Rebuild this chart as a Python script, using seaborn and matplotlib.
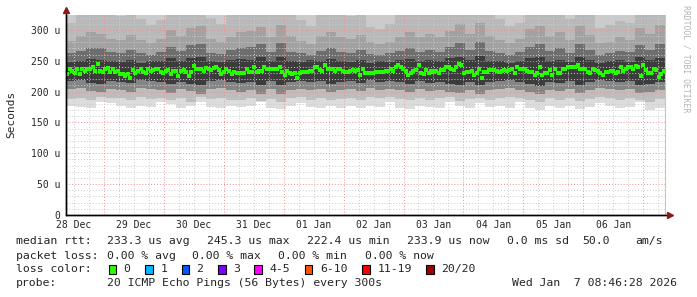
import numpy as np
import pandas as pd
import matplotlib
matplotlib.use("Agg")
import matplotlib.pyplot as plt
import matplotlib.dates as mdates
from matplotlib.patches import Rectangle
from matplotlib.lines import Line2D
import seaborn as sns

# ---------------- data ----------------
start = pd.Timestamp("2025-12-28 08:46:28")
end = pd.Timestamp("2026-01-07 08:46:28")

median_us = [
    228.6, 236, 233.5, 231, 237, 228, 237, 233, 237, 236,
    239.5, 233, 245.3, 233, 232, 236, 238, 232, 236, 232,
    233, 228, 228, 225.5, 228, 222.4, 235, 231, 233, 237,
    232, 231, 237, 233, 235, 236, 237, 232, 231, 233,
    235, 228, 233, 233, 225.5, 233, 235, 232, 225.5, 232,
    241.5, 237, 237, 237, 234, 239, 236, 235, 239,
    239.5, 235, 228.6, 232, 237, 233.5, 228.6, 232, 230, 230,
    230, 230, 236, 232, 232, 240.5, 232, 233.5, 233.5, 239.5,
    236, 236, 236, 237, 237, 240.5, 232, 226.5, 233.5, 231,
    228.6, 230, 222.7, 230, 232, 232, 232, 233.5, 233.5, 239.5,
    239.5, 235, 233.5, 244, 237, 236, 236, 233.5, 236, 237,
    233.5, 232, 232, 233.5, 235, 233.5, 235, 226.5, 237, 230,
    231, 230, 230, 232, 232, 232, 232, 233.5, 233.5, 237,
    233.5, 240.5, 244, 239.5, 237, 233.5, 226.5, 230, 233.5, 235,
    244, 230, 228.6, 235, 230, 233.5, 232, 233.5, 230, 235,
    235, 239.5, 239.5, 237, 235, 240.5, 245, 244, 230, 232,
    232, 233.5, 226.5, 231, 237, 222.7, 232, 232, 235, 235,
    235, 233.5, 232, 233.5, 235, 233.5, 235, 236, 231, 239.5,
    237,
    237, 237, 233.5, 232, 232, 226.5, 230, 239.5, 226.5, 230,
    231, 235, 226.5, 236, 230, 230, 236, 236, 240.5, 240.5,
    239.5, 240.5, 244, 237, 236, 236, 232, 231, 237, 235,
    233.5, 230, 226.5, 232, 232, 233.5, 233.5, 230, 232, 239.5,
    233.5, 237, 239.5, 240.5, 237, 241.5, 239.5, 225.5, 242.5, 235,
    231, 230, 237, 235, 224.5, 228.6, 233.9,
]

# smoke boundaries (sorted ping levels, us) in 60 time slots
smoke_p1 = [176, 175, 174, 184, 182, 176, 174, 177, 175, 183, 180, 174, 176, 184, 175, 173, 177, 175, 176, 183,
            174, 172, 176, 182, 175, 174, 177, 173, 176, 174, 177, 175, 183, 174, 172, 176, 175, 173, 183, 176,
            174, 182, 175, 177, 174, 184, 173, 171, 176, 174, 177, 172, 175, 182, 176, 174, 175, 184, 170, 173]
smoke_p3 = [188, 190, 187, 192, 190, 189, 186, 191, 188, 190, 187, 189, 184, 191, 188, 190, 187, 186, 189, 185,
            188, 184, 190, 191, 187, 189, 186, 188, 190, 187, 191, 189, 192, 188, 187, 190, 186, 189, 191, 185,
            188, 190, 187, 189, 191, 190, 186, 184, 189, 187, 190, 185, 188, 191, 189, 187, 190, 186, 184, 188]
smoke_p6 = [204, 206, 201, 199, 205, 203, 200, 206, 204, 203, 198, 204, 201, 197, 205, 206, 203, 200, 202, 197,
            204, 196, 203, 205, 202, 204, 200, 203, 205, 201, 206, 203, 205, 202, 200, 204, 201, 203, 200, 198,
            202, 197, 203, 204, 206, 203, 199, 196, 203, 201, 205, 198, 203, 206, 204, 202, 205, 198, 200, 202]
smoke_p9 = [217, 219, 214, 212, 218, 216, 214, 219, 217, 216, 212, 216, 213, 210, 218, 219, 216, 214, 215, 211,
            217, 210, 216, 218, 215, 217, 213, 216, 218, 214, 219, 216, 218, 215, 213, 217, 214, 216, 212, 211,
            215, 210, 216, 217, 219, 216, 212, 209, 216, 214, 218, 211, 216, 219, 217, 215, 218, 210, 212, 215]
smoke_p12 = [248, 250, 253, 252, 249, 248, 251, 247, 249, 250, 254, 249, 255, 256, 250, 248, 251, 253, 252, 256,
             250, 257, 249, 248, 251, 250, 253, 249, 248, 252, 247, 249, 248, 251, 253, 250, 252, 249, 254, 257,
             251, 258, 250, 249, 247, 250, 254, 257, 250, 252, 248, 256, 251, 247, 249, 252, 248, 257, 251, 255]
smoke_p15 = [262, 266, 271, 270, 264, 263, 268, 262, 260, 264, 273, 266, 276, 278, 263, 261, 267, 270, 272, 277,
             264, 279, 265, 262, 260, 266, 270, 264, 263, 268, 261, 259, 262, 266, 271, 265, 268, 264, 272, 279,
             268, 281, 266, 262, 260, 264, 273, 278, 266, 270, 263, 278, 268, 260, 262, 266, 264, 276, 268, 277]
smoke_p17 = [282, 290, 296, 294, 286, 284, 292, 283, 279, 285, 300, 290, 304, 306, 286, 280, 289, 296, 298, 305,
             288, 308, 290, 282, 278, 291, 296, 288, 285, 292, 280, 277, 281, 289, 297, 289, 294, 288, 299, 309,
             293, 312, 290, 283, 279, 285, 301, 307, 291, 296, 284, 306, 292, 279, 281, 288, 284, 304, 293, 308]
smoke_p19 = [312, 330, 335, 332, 326, 322, 333, 318, 308, 316, 340, 328, 345, 345, 320, 310, 326, 334, 336, 342,
             325, 350, 328, 316, 306, 330, 335, 326, 322, 332, 305, 302, 310, 326, 336, 327, 334, 325, 338, 350,
             330, 352, 328, 318, 306, 312, 340, 346, 330, 336, 318, 345, 330, 304, 308, 315, 312, 342, 332, 348]

day_labels = ["28 Dec", "29 Dec", "30 Dec", "31 Dec", "01 Jan", "02 Jan", "03 Jan", "04 Jan", "05 Jan", "06 Jan"]
y_tick_values = [0, 50, 100, 150, 200, 250, 300]
y_tick_labels = ["0", "50 u", "100 u", "150 u", "200 u", "250 u", "300 u"]

rtt_stats = ["233.3 us avg", "245.3 us max", "222.4 us min", "233.9 us now", "0.0 ms sd", "50.0", "am/s"]
loss_stats = ["0.00 % avg", "0.00 % max", "0.00 % min", "0.00 % now"]
loss_labels = ["0", "1", "2", "3", "4-5", "6-10", "11-19", "20/20"]
loss_colors = ["#26ff00", "#00b8ff", "#0059ff", "#7e00ff", "#ff00ff", "#ff5500", "#ff0000", "#a00000"]
probe_text = "20 ICMP Echo Pings (56 Bytes) every 300s"
stamp_text = "Wed Jan  7 08:46:28 2026"

# ---------------- figure ----------------
sns.set_style("white")
plt.rcParams["font.family"] = ["DejaVu Sans Mono"]

W, H = 697, 297
fig = plt.figure(figsize=(W / 100, H / 100), dpi=100)
fig.patch.set_facecolor("white")
L, R, T, B = 66, 665, 15, 215
ax = fig.add_axes([L / W, 1 - B / H, (R - L) / W, (B - T) / H])
ax.set_facecolor("white")

YTOP = 324.3
x0 = mdates.date2num(start.to_pydatetime())
x1 = mdates.date2num(end.to_pydatetime())

# smoke
edges = mdates.date2num(pd.date_range(start, end, periods=len(smoke_p1) + 1).to_pydatetime())
def ext(a):
    a = np.asarray(a, dtype=float)
    return np.append(a, a[-1])

levels = [smoke_p1, smoke_p3, smoke_p6, smoke_p9, smoke_p12, smoke_p15, smoke_p17, smoke_p19]
band_colors = ["#dcdcdc", "#bdbdbd", "#858585", "#3c3c3c", "#6e6e6e", "#a2a2a2", "#b9b9b9"]
for lo, hi, c in zip(levels[:-1], levels[1:], band_colors):
    ax.fill_between(edges, ext(lo), ext(hi), step="post", color=c, linewidth=0, zorder=1)
ax.fill_between(edges, ext(smoke_p19), np.full(len(edges), 400.0), step="post",
                color="#cbcbcb", linewidth=0, zorder=1)

# grid
for t in pd.date_range(start.ceil("6h"), end, freq="6h"):
    xv = mdates.date2num(t.to_pydatetime())
    if t.hour == 0:
        ax.axvline(xv, color="#f09090", lw=0.7, ls=(0, (1, 2)), zorder=2)
    else:
        ax.axvline(xv, color="#cccccc", lw=0.7, ls=(0, (1, 2)), zorder=2)
for v in range(10, 330, 10):
    if v % 50 == 0:
        ax.axhline(v, color="#f09090", lw=0.7, ls=(0, (1, 2)), zorder=2)
    else:
        ax.axhline(v, color="#cccccc", lw=0.7, ls=(0, (1, 2)), zorder=2)

# median
n = len(median_us)
slot = (end - start) / n
med_times = [start + slot * (i + 0.5) for i in range(n)]
df = pd.DataFrame({"t": mdates.date2num([t.to_pydatetime() for t in med_times]), "rtt": median_us})
sns.scatterplot(data=df, x="t", y="rtt", marker="s", s=6.5, color=loss_colors[0],
                linewidth=0, ax=ax, zorder=4, legend=False)

ax.set_xlim(x0, x1)
ax.set_ylim(0, YTOP)
ax.set_xlabel("")
ax.set_ylabel("")

noons = pd.date_range("2025-12-28 12:00", periods=len(day_labels), freq="D")
ax.set_xticks(mdates.date2num(noons.to_pydatetime()))
ax.set_xticklabels(day_labels, fontsize=7.05)
ax.set_yticks(y_tick_values)
ax.set_yticklabels(y_tick_labels, fontsize=7.05)
ax.tick_params(axis="x", length=0, pad=3.5)
ax.tick_params(axis="y", length=0, pad=4.3)
minor_x = mdates.date2num(pd.date_range(start.ceil("6h"), end, freq="6h").to_pydatetime())
ax.set_xticks(minor_x, minor=True)
ax.set_yticks(list(range(10, 330, 10)), minor=True)
ax.tick_params(which="minor", length=2, width=0.6, color="#999999", direction="inout")

ax.spines["top"].set_visible(False)
ax.spines["right"].set_color("#c8c8b8")
ax.spines["right"].set_linewidth(0.8)
ax.spines["left"].set_color("black")
ax.spines["bottom"].set_color("black")
ax.spines["left"].set_linewidth(1.0)
ax.spines["bottom"].set_linewidth(1.0)

# axis extensions with arrows
fig.add_artist(Line2D([L / W, 668 / W], [1 - B / H, 1 - B / H], color="black", lw=1.0))
fig.add_artist(Line2D([L / W, L / W], [1 - B / H, 1 - 12 / H], color="black", lw=1.0))
fig.add_artist(Line2D([670 / W], [1 - B / H], marker=">", color="#8a1a1a", markersize=4, lw=0))
fig.add_artist(Line2D([L / W], [1 - 10 / H], marker="^", color="#8a1a1a", markersize=4, lw=0))

# labels
fig.text(11 / W, 1 - 114 / H, "Seconds", rotation=90, ha="center", va="center", fontsize=8.0)
fig.text(686 / W, 1 - 59 / H, "RRDTOOL / TOBI OETIKER", rotation=270, ha="center", va="center",
         fontsize=5.9, color="#b4b4b4")

FS = 8.25
CW = 6.95
def ftxt(xp, yp, s, **kw):
    fig.text(xp / W, 1 - yp / H, s, fontsize=FS, va="center", **kw)

row1, row2, row3, row4 = 241, 255.7, 269.3, 283.3
ftxt(16, row1, "median rtt:")
for xp, s in zip([107, 207, 307, 407.3, 507.3, 582.7, 635], rtt_stats):
    ftxt(xp, row1, s)
ftxt(16, row2, "packet loss:")
for xp, s in zip([107, 192, 278, 365], loss_stats):
    ftxt(xp, row2, s)
ftxt(16, row3, "loss color:")
bx = 108.7
for lab, col in zip(loss_labels, loss_colors):
    fig.add_artist(Rectangle((bx / W, 1 - 273.8 / H), 7.6 / W, 9.2 / H, facecolor=col,
                             edgecolor="black", linewidth=0.8, transform=fig.transFigure))
    ftxt(bx + 15, row3, lab)
    bx += 15 + len(lab) * CW + 14.5
ftxt(16, row4, "probe:")
ftxt(107, row4, probe_text)
ftxt(677, row4, stamp_text, ha="right")

fig.savefig("out.png", dpi=100, facecolor="white")
